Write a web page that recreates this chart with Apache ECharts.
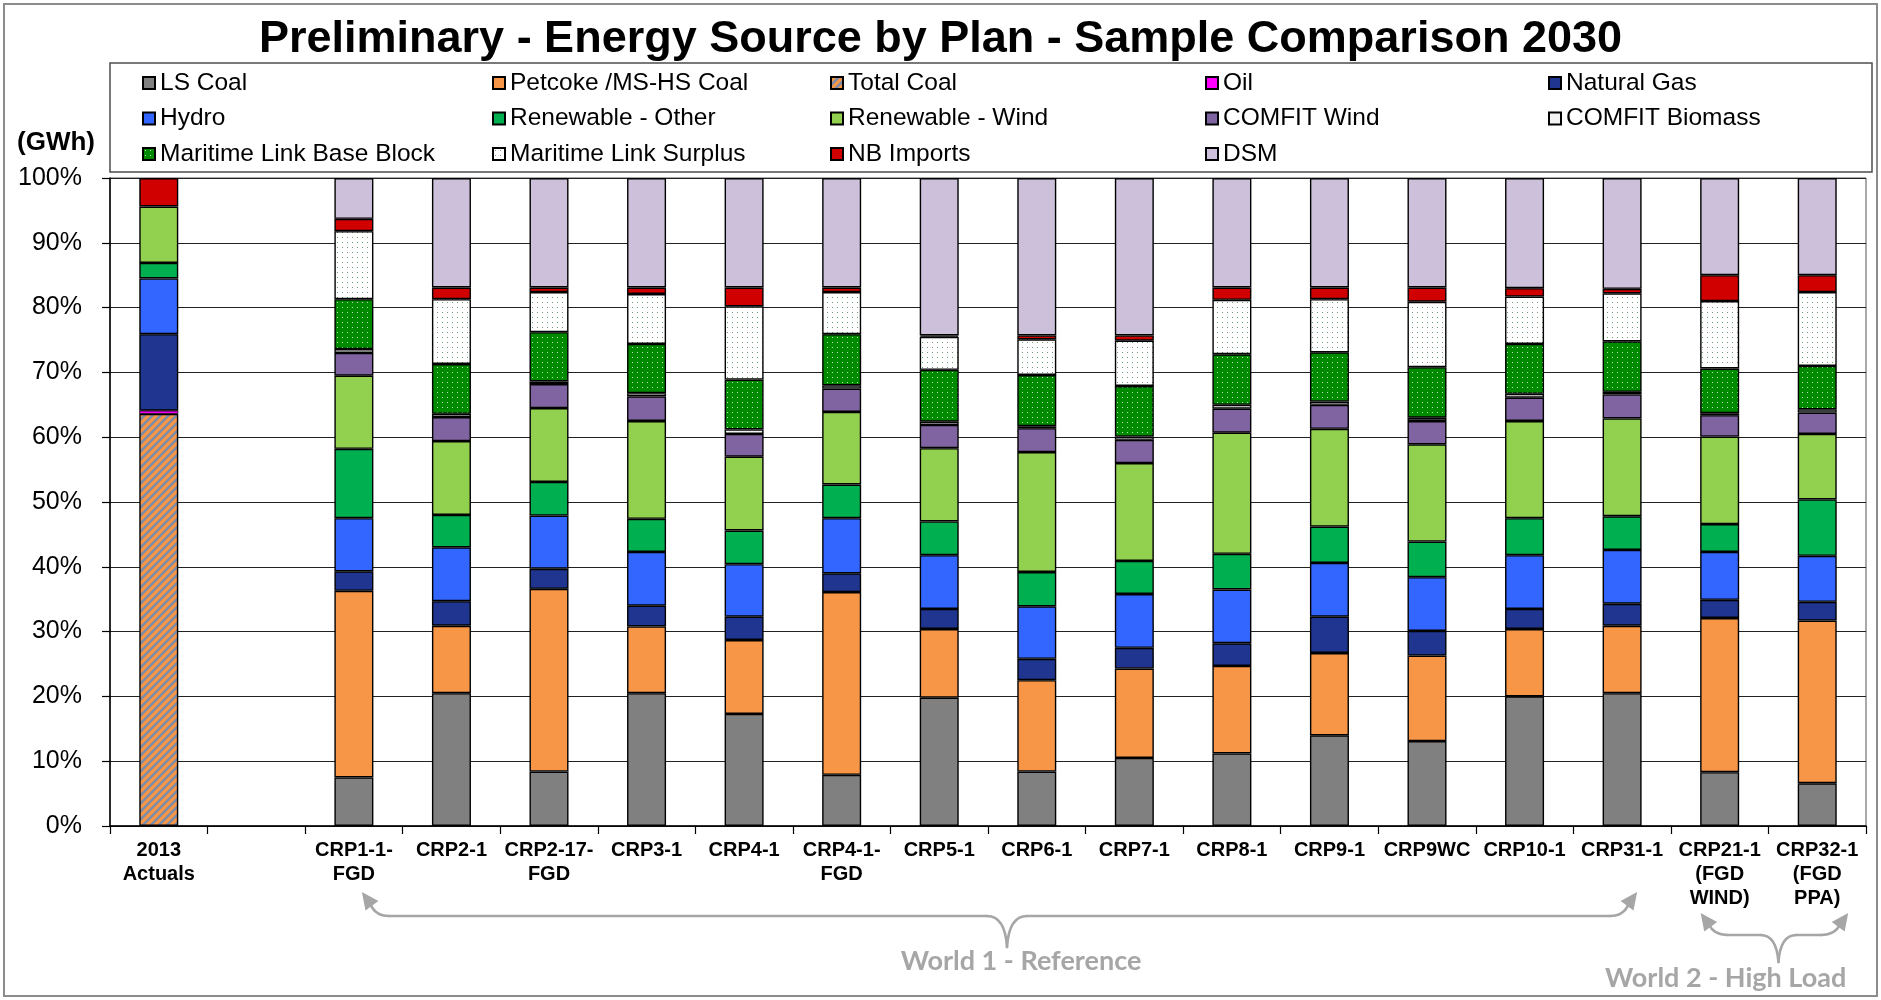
<!DOCTYPE html>
<html>
<head>
<meta charset="utf-8">
<title>Energy Source by Plan 2030</title>
<script src="https://cdn.jsdelivr.net/npm/echarts@6/dist/echarts.min.js"></script>
<style>
  html, body { margin: 0; padding: 0; background: #ffffff; }
  #chart { width: 1881px; height: 1000px; }
</style>
</head>
<body>
<div id="chart"></div>
<script>
// Plans (x categories); the empty slot separates actuals from the plans
const plans = ['2013\nActuals', '', 'CRP1-1-\nFGD', 'CRP2-1', 'CRP2-17-\nFGD', 'CRP3-1', 'CRP4-1',
  'CRP4-1-\nFGD', 'CRP5-1', 'CRP6-1', 'CRP7-1', 'CRP8-1', 'CRP9-1', 'CRP9WC', 'CRP10-1', 'CRP31-1',
  'CRP21-1\n(FGD\nWIND)', 'CRP32-1\n(FGD\nPPA)'];

// Share of energy by source, % of total (each plan sums to 100)
const lsCoal     = [null, null, 7.5, 20.5, 8.4, 20.5, 17.3, 7.9, 19.8, 8.4, 10.5, 11.2, 14.0, 13.1, 20.0, 20.5, 8.3, 6.6];
const petcoke    = [null, null, 28.8, 10.4, 28.2, 10.3, 11.4, 28.2, 10.6, 14.1, 13.8, 13.5, 12.7, 13.2, 10.4, 10.4, 23.8, 25.1];
const totalCoal  = [63.6, null, null, null, null, null, null, null, null, null, null, null, null, null, null, null, null, null];
const oil        = [0.5, null, null, null, null, null, null, null, null, null, null, null, null, null, null, null, null, null];
const naturalGas = [11.8, null, 3.0, 3.8, 3.1, 3.2, 3.6, 2.9, 3.1, 3.3, 3.2, 3.5, 5.6, 3.8, 3.1, 3.4, 2.8, 2.9];
const hydro      = [8.6, null, 8.2, 8.3, 8.2, 8.3, 8.1, 8.5, 8.3, 8.1, 8.3, 8.3, 8.3, 8.3, 8.3, 8.3, 7.4, 7.1];
const renOther   = [2.4, null, 10.7, 5.0, 5.2, 5.1, 5.2, 5.2, 5.2, 5.3, 5.1, 5.5, 5.6, 5.5, 5.7, 5.2, 4.3, 8.7];
const renWind    = [8.7, null, 11.3, 11.4, 11.4, 15.1, 11.4, 11.2, 11.3, 18.5, 15.1, 18.7, 15.1, 15.0, 15.0, 15.1, 13.5, 10.1];
const comfitWind = [null, null, 3.5, 3.7, 3.7, 3.8, 3.5, 3.6, 3.6, 3.7, 3.6, 3.7, 3.7, 3.6, 3.6, 3.7, 3.3, 3.3];
const comfitBio  = [null, null, 0.6, 0.5, 0.4, 0.5, 0.7, 0.5, 0.5, 0.3, 0.5, 0.6, 0.5, 0.5, 0.6, 0.4, 0.3, 0.5];
const mlBase     = [null, null, 7.7, 7.7, 7.6, 7.6, 7.7, 7.9, 8.0, 7.9, 7.8, 7.8, 7.6, 7.8, 7.7, 7.8, 6.9, 6.7];
const mlSurplus  = [null, null, 10.5, 10.0, 6.2, 7.7, 11.3, 6.5, 5.1, 5.5, 7.0, 8.4, 8.2, 10.1, 7.3, 7.4, 10.4, 11.4];
const nbImports  = [4.4, null, 1.9, 1.8, 0.7, 1.0, 2.9, 0.7, 0.2, 0.6, 0.8, 1.9, 1.8, 2.2, 1.3, 0.7, 4.0, 2.6];
const dsm        = [null, null, 6.3, 16.9, 16.9, 16.9, 16.9, 16.9, 24.3, 24.3, 24.3, 16.9, 16.9, 16.9, 17.0, 17.1, 15.0, 15.0];

// Y axis ticks (percent)
const yTicks = { min: 0, max: 100, step: 10 };

const FONT = '"Liberation Sans", Arial, Helvetica, sans-serif';
const NOTE_FONT = 'Lato, "Open Sans", sans-serif';
const NOTE_GRAY = '#a6a6a6';

// ---- fill patterns -------------------------------------------------
function makeTile(size, paint) {
  const c = document.createElement('canvas');
  c.width = size; c.height = size;
  paint(c.getContext('2d'), size);
  return { image: c, repeat: 'repeat' };
}
const hatchFill = makeTile(8, (g, s) => {
  g.fillStyle = '#f79646'; g.fillRect(0, 0, s, s);
  g.strokeStyle = '#7e8ca6'; g.lineWidth = 2.6; g.lineCap = 'square';
  g.beginPath();
  g.moveTo(-2, s + 2); g.lineTo(s + 2, -2);
  g.moveTo(-2, 2); g.lineTo(2, -2);
  g.moveTo(s - 2, s + 2); g.lineTo(s + 2, s - 2);
  g.stroke();
});
const greenDots = makeTile(5, (g, s) => {
  g.fillStyle = '#008a00'; g.fillRect(0, 0, s, s);
  g.fillStyle = '#bfe8bf'; g.fillRect(2, 2, 1, 1);
});
const whiteDots = makeTile(5, (g, s) => {
  g.fillStyle = '#ffffff'; g.fillRect(0, 0, s, s);
  g.fillStyle = '#6f9a6f'; g.fillRect(2, 2, 1, 1);
});

// ---- series definitions (bottom of stack first) ---------------------
const seriesDefs = [
  { name: 'LS Coal', data: lsCoal, color: '#808080' },
  { name: 'Petcoke /MS-HS Coal', data: petcoke, color: '#f79646' },
  { name: 'Total Coal', data: totalCoal, color: hatchFill },
  { name: 'Oil', data: oil, color: '#ff00ff', border: 0.8 },
  { name: 'Natural Gas', data: naturalGas, color: '#1f358f' },
  { name: 'Hydro', data: hydro, color: '#3366ff' },
  { name: 'Renewable - Other', data: renOther, color: '#00b050' },
  { name: 'Renewable - Wind', data: renWind, color: '#92d050' },
  { name: 'COMFIT Wind', data: comfitWind, color: '#8064a2' },
  { name: 'COMFIT Biomass', data: comfitBio, color: '#f4f4f4' },
  { name: 'Maritime Link Base Block', data: mlBase, color: greenDots },
  { name: 'Maritime Link Surplus', data: mlSurplus, color: whiteDots },
  { name: 'NB Imports', data: nbImports, color: '#d00000' },
  { name: 'DSM', data: dsm, color: '#ccc0da' }
];

// legend laid out in five columns of three rows
const legendCols = [
  ['LS Coal', 'Hydro', 'Maritime Link Base Block'],
  ['Petcoke /MS-HS Coal', 'Renewable - Other', 'Maritime Link Surplus'],
  ['Total Coal', 'Renewable - Wind', 'NB Imports'],
  ['Oil', 'COMFIT Wind', 'DSM'],
  ['Natural Gas', 'COMFIT Biomass']
];
const legendLeft = [142, 492, 830, 1205, 1548];

const chart = echarts.init(document.getElementById('chart'), null, { renderer: 'canvas' });

const option = {
  backgroundColor: '#ffffff',
  animation: false,
  title: {
    text: 'Preliminary - Energy Source by Plan - Sample Comparison 2030',
    left: 'center',
    top: 17,
    padding: [0, 16, 0, 0],
    textStyle: { fontFamily: FONT, fontSize: 45, fontWeight: 'bold', color: '#000' }
  },
  legend: legendCols.map((names, i) => ({
    data: names,
    orient: 'vertical',
    left: legendLeft[i],
    top: 70,
    padding: 0,
    itemWidth: 12,
    itemHeight: 12,
    itemGap: 9.5,
    icon: 'rect',
    selectedMode: false,
    textStyle: { fontFamily: FONT, fontSize: 24.5, lineHeight: 26, color: '#000' }
  })),
  grid: {
    left: 110, right: 15, top: 178, bottom: 174,
    show: true, borderColor: '#555', borderWidth: 1,
    outerBoundsMode: 'none'
  },
  xAxis: {
    type: 'category',
    data: plans,
    axisLine: { lineStyle: { color: '#000', width: 1.5 } },
    axisTick: { show: true, interval: 0, alignWithLabel: false, length: 8, lineStyle: { color: '#000', width: 1.2 } },
    axisLabel: {
      interval: 0, margin: 12, hideOverlap: false,
      fontFamily: FONT, fontSize: 20, fontWeight: 'bold', lineHeight: 24, color: '#000', align: 'center'
    },
    splitLine: { show: false }
  },
  yAxis: {
    type: 'value',
    min: yTicks.min, max: yTicks.max, interval: yTicks.step,
    axisLine: { show: true, lineStyle: { color: '#000', width: 1.5 } },
    axisTick: { show: true, length: 8, lineStyle: { color: '#000', width: 1.2 } },
    axisLabel: { formatter: '{value}%', margin: 28, fontFamily: FONT, fontSize: 25, color: '#000' },
    splitLine: { show: true, lineStyle: { color: '#222', width: 1 } }
  },
  series: seriesDefs.map(d => ({
    name: d.name,
    type: 'bar',
    stack: 'share',
    barWidth: 39,
    data: d.data,
    itemStyle: { color: d.color, borderColor: '#000', borderWidth: d.border || 1.4 },
    emphasis: { disabled: true }
  })),
  graphic: [
    { type: 'rect', silent: true, z: 0,
      shape: { x: 4, y: 4, width: 1873, height: 992 },
      style: { fill: 'none', stroke: '#8c8c8c', lineWidth: 2 } },
    { type: 'rect', silent: true, z: 0,
      shape: { x: 110, y: 63, width: 1762, height: 109 },
      style: { fill: 'none', stroke: '#4d4d4d', lineWidth: 1.5 } },
    { type: 'text', silent: true, x: 17, y: 143,
      style: { text: '(GWh)', fontFamily: FONT, fontSize: 26, fontWeight: 'bold', fill: '#000',
               textVerticalAlign: 'middle', verticalAlign: 'middle' } }
  ]
};

chart.setOption(option);

// ---- group annotations under the axis labels ------------------------
function cx(i) { return chart.convertToPixel({ xAxisIndex: 0 }, i); }

function arrowHead(tip, base, len, half) {
  const dx = tip[0] - base[0], dy = tip[1] - base[1];
  const n = Math.hypot(dx, dy) || 1;
  const ux = dx / n, uy = dy / n;
  const bx = tip[0] - ux * len, by = tip[1] - uy * len;
  return {
    type: 'polygon', silent: true,
    shape: { points: [tip, [bx - uy * half, by + ux * half], [bx + uy * half, by - ux * half]] },
    style: { fill: NOTE_GRAY }
  };
}
function seg(x1, y1, x2, y2) {
  return { type: 'line', silent: true, shape: { x1, y1, x2, y2 },
           style: { stroke: NOTE_GRAY, lineWidth: 2.6, lineCap: 'round' } };
}
function curve(x1, y1, cpx1, cpy1, x2, y2) {
  return { type: 'bezierCurve', silent: true, shape: { x1, y1, cpx1, cpy1, x2, y2 },
           style: { stroke: NOTE_GRAY, lineWidth: 2.6, fill: 'none', lineCap: 'round' } };
}

const notes = [];
// World 1: CRP1-1-FGD ... CRP31-1
(function () {
  const a = cx(2), b = cx(15);
  const y = 916, braceX = (cx(8) + cx(9)) / 2 + 19, braceY = 947;
  const lTip = [a + 8, 892], lBase = [a + 19, 906];
  const rTip = [b + 15, 892], rBase = [b + 4, 906];
  notes.push(arrowHead(lTip, [lTip[0] + 11, lTip[1] + 15], 17, 8));
  notes.push(curve(lBase[0] - 3, lBase[1] - 3, lBase[0] + 2, y, lBase[0] + 16, y));
  notes.push(seg(lBase[0] + 16, y, braceX - 20, y));
  notes.push(curve(braceX - 20, y, braceX - 2, y, braceX, braceY));
  notes.push(curve(braceX, braceY, braceX + 2, y, braceX + 20, y));
  notes.push(seg(braceX + 20, y, rBase[0] - 16, y));
  notes.push(curve(rBase[0] - 16, y, rBase[0] - 2, y, rBase[0] + 3, rBase[1] - 3));
  notes.push(arrowHead(rTip, [rTip[0] - 11, rTip[1] + 15], 17, 8));
  notes.push({ type: 'text', silent: true, x: braceX + 14, y: 961,
    style: { text: 'World 1 - Reference', fontFamily: NOTE_FONT, fontSize: 27, fontWeight: 'bold',
             fill: NOTE_GRAY, align: 'center', verticalAlign: 'middle' } });
})();
// World 2: CRP21-1 and CRP32-1
(function () {
  const a = cx(16), b = cx(17);
  const y = 935, braceX = (a + b) / 2 + 10, braceY = 962;
  const lTip = [a - 19, 913], lBase = [a - 8, 927];
  const rTip = [b + 31, 913], rBase = [b + 20, 927];
  notes.push(arrowHead(lTip, [lTip[0] + 11, lTip[1] + 15], 17, 8));
  notes.push(curve(lBase[0] - 3, lBase[1] - 3, lBase[0] + 2, y, lBase[0] + 16, y));
  notes.push(seg(lBase[0] + 16, y, braceX - 18, y));
  notes.push(curve(braceX - 18, y, braceX - 2, y, braceX, braceY));
  notes.push(curve(braceX, braceY, braceX + 2, y, braceX + 18, y));
  notes.push(seg(braceX + 18, y, rBase[0] - 16, y));
  notes.push(curve(rBase[0] - 16, y, rBase[0] - 2, y, rBase[0] + 3, rBase[1] - 3));
  notes.push(arrowHead(rTip, [rTip[0] - 11, rTip[1] + 15], 17, 8));
  notes.push({ type: 'text', silent: true, x: a + 6, y: 978,
    style: { text: 'World 2 - High Load', fontFamily: NOTE_FONT, fontSize: 27, fontWeight: 'bold',
             fill: NOTE_GRAY, align: 'center', verticalAlign: 'middle' } });
})();

chart.setOption({ graphic: option.graphic.concat(notes) });
</script>
</body>
</html>
